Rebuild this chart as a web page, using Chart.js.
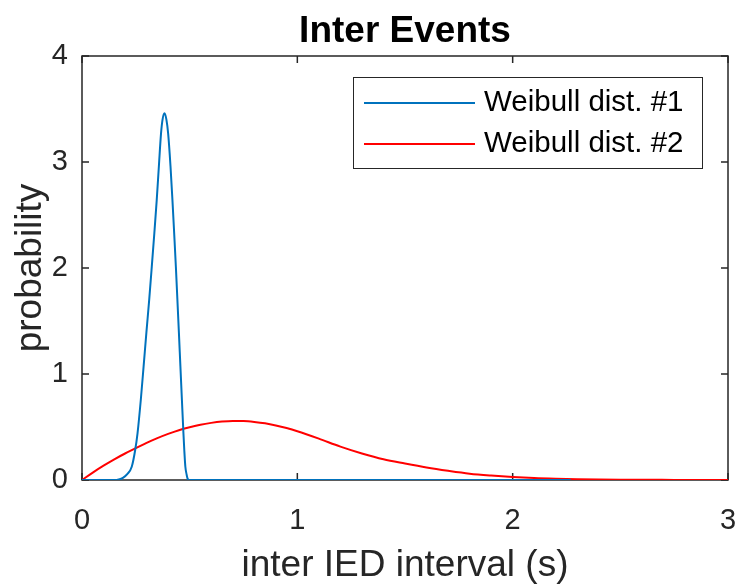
<!DOCTYPE html>
<html><head><meta charset="utf-8">
<script src="https://cdn.jsdelivr.net/npm/chart.js@4.4.0/dist/chart.umd.min.js"></script>
<style>html,body{margin:0;padding:0;background:#fff;}canvas{display:block;}</style>
</head><body>
<canvas id="c" width="737" height="585"></canvas>
<script>
const chartTitle = 'Inter Events';
const xAxisLabel = 'inter IED interval (s)';
const yAxisLabel = 'probability';
const seriesLabels = ['Weibull dist. #1', 'Weibull dist. #2'];
const xTicks = [0, 1, 2, 3];
const yTicks = [0, 1, 2, 3, 4];

const blueX = [0, 0.153, 0.17, 0.19, 0.21, 0.231, 0.247, 0.258, 0.273, 0.286, 0.299, 0.312, 0.324, 0.336, 0.347, 0.357, 0.367, 0.374, 0.383, 0.392, 0.400, 0.411, 0.420, 0.428, 0.436, 0.443, 0.450, 0.457, 0.464, 0.471, 0.475, 0.480, 0.486, 0.490, 0.496, 1.0, 1.5, 2.0, 2.27];
const blueY = [0, 0, 0.005, 0.02, 0.055, 0.125, 0.283, 0.443, 0.755, 1.07, 1.39, 1.70, 2.01, 2.33, 2.64, 2.96, 3.27, 3.40, 3.46, 3.40, 3.27, 2.96, 2.64, 2.33, 2.01, 1.70, 1.39, 1.07, 0.755, 0.443, 0.283, 0.125, 0.05, 0.015, 0, 0, 0, 0, 0];

const redX = [0, 0.05, 0.1, 0.15, 0.2, 0.25, 0.3, 0.35, 0.4, 0.45, 0.5, 0.55, 0.6, 0.65, 0.7, 0.75, 0.8, 0.85, 0.9, 0.95, 1.0, 1.1, 1.2, 1.3, 1.4, 1.5, 1.6, 1.7, 1.8, 1.9, 2.0, 2.1, 2.2, 2.3, 2.5, 2.75, 3.0];
const redY = [0, 0.07, 0.135, 0.195, 0.25, 0.30, 0.35, 0.395, 0.435, 0.47, 0.498, 0.522, 0.539, 0.551, 0.557, 0.556, 0.548, 0.535, 0.515, 0.49, 0.46, 0.39, 0.315, 0.25, 0.195, 0.155, 0.118, 0.087, 0.06, 0.042, 0.028, 0.018, 0.012, 0.008, 0.003, 0.001, 0];

const colors = ['#0072BD', '#FF0000'];
const FAMILY = "'Liberation Sans', Arial, Helvetica, sans-serif";
Chart.defaults.font.family = FAMILY;
Chart.defaults.color = '#262626';

const toPts = (xs, ys) => xs.map((x, i) => ({x: x, y: ys[i]}));

const titleCenterPlugin = {
  id: 'titleOverArea',
  afterLayout(chart) {
    const t = chart.titleBlock;
    if (t) { t.left = chart.chartArea.left; t.right = chart.chartArea.right; t.width = t.right - t.left; }
  }
};

const boxPlugin = {
  id: 'matlabBox',
  beforeDatasetsDraw(chart) {
    const {ctx, chartArea: a, scales: {x, y}} = chart;
    ctx.save();
    ctx.strokeStyle = '#262626';
    ctx.lineWidth = 1.5;
    ctx.strokeRect(a.left, a.top, a.right - a.left, a.bottom - a.top);
    ctx.beginPath();
    xTicks.forEach(v => {
      const px = x.getPixelForValue(v);
      ctx.moveTo(px, a.bottom); ctx.lineTo(px, a.bottom - 7);
      ctx.moveTo(px, a.top); ctx.lineTo(px, a.top + 7);
    });
    yTicks.forEach(v => {
      const py = y.getPixelForValue(v);
      ctx.moveTo(a.left, py); ctx.lineTo(a.left + 7, py);
      ctx.moveTo(a.right, py); ctx.lineTo(a.right - 7, py);
    });
    ctx.stroke();
    ctx.restore();
  }
};

const legendPlugin = {
  id: 'matlabLegend',
  afterDraw(chart) {
    const {ctx, chartArea: a} = chart;
    const right = a.right - 26, top = a.top + 21, w = 349, h = 91;
    const left = right - w;
    ctx.save();
    ctx.fillStyle = '#fff';
    ctx.fillRect(left, top, w, h);
    ctx.strokeStyle = '#262626';
    ctx.lineWidth = 1;
    ctx.strokeRect(left + 0.5, top + 0.5, w, h);
    ctx.font = '29.5px ' + FAMILY;
    ctx.textBaseline = 'middle';
    ctx.textAlign = 'left';
    chart.data.datasets.forEach((ds, i) => {
      const yy = top + 26 + i * 41;
      ctx.strokeStyle = ds.borderColor;
      ctx.lineWidth = 2;
      ctx.beginPath();
      ctx.moveTo(left + 11, yy); ctx.lineTo(left + 122, yy);
      ctx.stroke();
      ctx.fillStyle = '#000';
      ctx.fillText(ds.label, left + 131, yy);
    });
    ctx.restore();
  }
};

new Chart(document.getElementById('c'), {
  type: 'scatter',
  data: {
    datasets: [
      {label: seriesLabels[0], data: toPts(blueX, blueY), borderColor: colors[0], backgroundColor: colors[0], showLine: true, pointRadius: 0, borderWidth: 2, cubicInterpolationMode: 'monotone'},
      {label: seriesLabels[1], data: toPts(redX, redY), borderColor: colors[1], backgroundColor: colors[1], showLine: true, pointRadius: 0, borderWidth: 2, cubicInterpolationMode: 'monotone'}
    ]
  },
  options: {
    responsive: false,
    animation: false,
    devicePixelRatio: 1,
    layout: {padding: {left: 0, right: 9, top: 0, bottom: 0}},
    plugins: {
      legend: {display: false},
      tooltip: {enabled: false},
      title: {display: true, text: chartTitle, color: '#000', font: {size: 37, weight: 'bold', lineHeight: 1.2}, padding: {top: 10, bottom: 1.6}}
    },
    scales: {
      x: {
        type: 'linear', min: 0, max: 3,
        afterBuildTicks: s => { s.ticks = xTicks.map(v => ({value: v})); },
        afterFit: s => { s.height = 105; s.paddingLeft = 0; s.paddingRight = 0; },
        grid: {display: false, drawTicks: false},
        border: {display: false},
        ticks: {font: {size: 29}, padding: 24, color: '#262626', maxRotation: 0},
        title: {display: true, text: xAxisLabel, font: {size: 37, lineHeight: 1.05}, color: '#262626', padding: {top: 0, bottom: 0}}
      },
      y: {
        type: 'linear', min: 0, max: 4,
        afterBuildTicks: s => { s.ticks = yTicks.map(v => ({value: v})); },
        afterFit: s => { s.width = 82; s.paddingTop = 0; s.paddingBottom = 0; },
        grid: {display: false, drawTicks: false},
        border: {display: false},
        ticks: {font: {size: 29}, padding: 14, color: '#262626'},
        title: {display: true, text: yAxisLabel, font: {size: 37, lineHeight: 1.1}, color: '#262626', padding: {top: 10, bottom: 0}}
      }
    }
  },
  plugins: [titleCenterPlugin, boxPlugin, legendPlugin]
});
</script>
</body></html>
